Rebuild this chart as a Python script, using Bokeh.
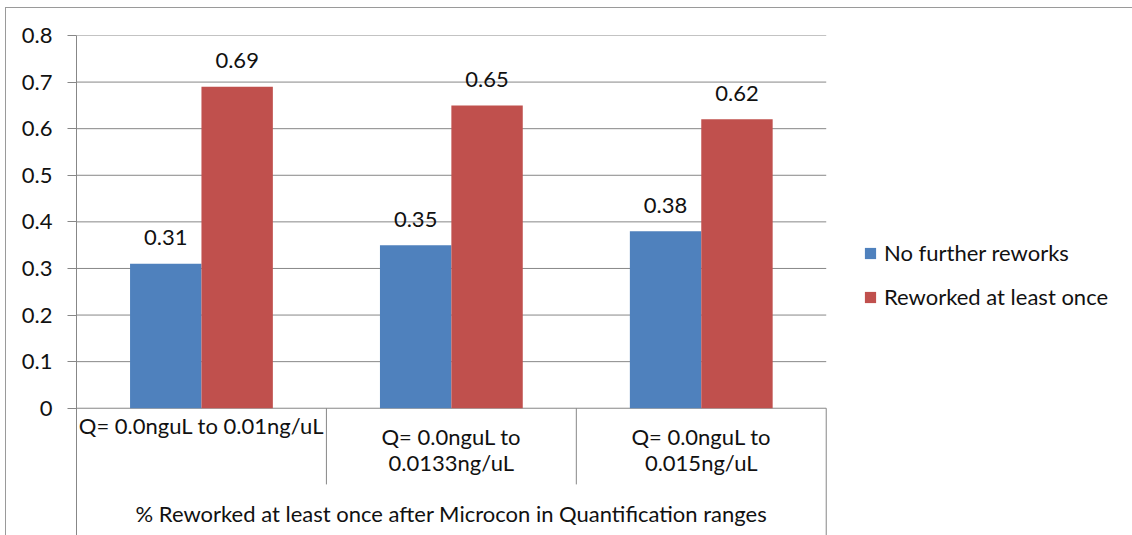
from bokeh.plotting import figure
from bokeh.models import (ColumnDataSource, Range1d, FixedTicker, NumeralTickFormatter,
                          Legend, LegendItem)
from bokeh.core.properties import value
from bokeh.embed import file_html
from bokeh.resources import INLINE

# ---- data -------------------------------------------------------------
categories = ["Q= 0.0nguL to 0.01ng/uL", "Q= 0.0nguL to\n0.0133ng/uL", "Q= 0.0nguL to\n0.015ng/uL"]
series_names = ["No further reworks", "Reworked at least once"]
no_further_reworks = [0.31, 0.35, 0.38]
reworked_at_least_once = [0.69, 0.65, 0.62]
y_ticks = [0, 0.1, 0.2, 0.3, 0.4, 0.5, 0.6, 0.7, 0.8]
axis_title = "% Reworked at least once after Microcon in Quantification ranges"

# ---- style ------------------------------------------------------------
FONT = "Lato"
FONT_SIZE = "22px"
BLUE = "#4F81BD"
RED = "#C0504D"
GRID = "#878787"
TEXT = "#111111"

# ---- layout (pixels) --------------------------------------------------
W, H = 1132, 535
ML, MT, BW = 5, 7, 1          # chart-area border: offset and width
fig_w, fig_h = W - ML - BW, H - MT - BW
left_px, top_px = 70, 27      # room for the value axis above/left of the frame
cat_px = 249.67               # width of one category slot
zero_px = 372                 # distance from frame top to the zero line
sep_px = 76                   # depth of the inner category separators
label_px, line_step_px = 17, 24
title_px = 105
bar_w = 2 / 7                 # gap width 150 %

frame_w = fig_w - left_px
frame_h = fig_h - top_px
y_top = y_ticks[-1]
unit_px = zero_px / y_top
x_end = frame_w / cat_px
y_start = -(frame_h - zero_px) / unit_px
n = len(categories)

p = figure(width=fig_w, height=fig_h, output_backend="svg", toolbar_location=None,
           x_range=Range1d(0, x_end), y_range=Range1d(y_start, y_top),
           x_axis_type=None,
           min_border_left=left_px, min_border_top=top_px,
           min_border_right=0, min_border_bottom=0)
p.margin = (MT, 0, 0, ML)
p.styles = {"border-top": f"{BW}px solid #9a9a9a", "border-left": f"{BW}px solid #9a9a9a",
            "box-sizing": "content-box"}
p.outline_line_color = None
p.xgrid.visible = False
p.ygrid.visible = False
p.background_fill_color = "white"
p.border_fill_color = "white"

# value axis
ax = p.yaxis[0]
ax.ticker = FixedTicker(ticks=y_ticks)
ax.formatter = NumeralTickFormatter(format="0.[0]")
ax.major_tick_in = 0
ax.major_tick_out = 9
ax.minor_tick_out = 0
ax.minor_tick_in = 0
ax.axis_line_color = GRID
ax.major_tick_line_color = GRID
ax.major_label_text_font = FONT
ax.major_label_text_font_size = FONT_SIZE
ax.major_label_text_color = TEXT
ax.major_label_standoff = 15

# horizontal gridlines across the category slots
p.segment(x0=[0] * len(y_ticks), x1=[n] * len(y_ticks), y0=y_ticks, y1=y_ticks,
          line_color=GRID, line_width=1)

# category separators below the zero line
sep_x = list(range(n + 1))
sep_bottom = [y_start if i in (0, n) else -sep_px / unit_px for i in sep_x]
p.segment(x0=sep_x, x1=sep_x, y0=[0] * len(sep_x), y1=sep_bottom,
          line_color=GRID, line_width=1)

# bars
centers = [i + 0.5 for i in range(n)]
src_a = ColumnDataSource(dict(x=[c - bar_w / 2 for c in centers], top=no_further_reworks,
                              lbl=[f"{v:.2f}" for v in no_further_reworks]))
src_b = ColumnDataSource(dict(x=[c + bar_w / 2 for c in centers], top=reworked_at_least_once,
                              lbl=[f"{v:.2f}" for v in reworked_at_least_once]))
r_a = p.vbar(x="x", top="top", width=bar_w, bottom=0, source=src_a,
             fill_color=BLUE, line_color=None)
r_b = p.vbar(x="x", top="top", width=bar_w, bottom=0, source=src_b,
             fill_color=RED, line_color=None)

# value labels
for src in (src_a, src_b):
    p.text(x="x", y="top", text="lbl", source=src, text_align="center",
           text_baseline="middle", y_offset=-26, text_font=value(FONT),
           text_font_size=FONT_SIZE, text_color=TEXT)

# category labels
cat_src = ColumnDataSource(dict(
    x=centers, y=[0] * n, text=categories,
    off=[label_px + line_step_px * (c.count("\n")) for c in categories]))
p.text(x="x", y="y", text="text", source=cat_src, y_offset="off",
       text_align="center", text_baseline="middle", text_line_height=0.95,
       text_font=value(FONT), text_font_size=FONT_SIZE, text_color=TEXT)

# axis title
p.text(x=[n / 2], y=[0], text=[axis_title], y_offset=title_px,
       text_align="center", text_baseline="middle",
       text_font=value(FONT), text_font_size=FONT_SIZE, text_color=TEXT)

# legend
legend = Legend(items=[LegendItem(label=series_names[0], renderers=[r_a]),
                       LegendItem(label=series_names[1], renderers=[r_b])],
                location=(787, 226))
legend.glyph_width = 14
legend.glyph_height = 14
legend.label_standoff = 7
legend.label_height = 22
legend.spacing = 17
legend.padding = 0
legend.margin = 0
legend.border_line_color = None
legend.background_fill_alpha = 0
legend.label_text_font = FONT
legend.label_text_font_size = FONT_SIZE
legend.label_text_color = TEXT
p.add_layout(legend)

open("out.html", "w").write(file_html(p, INLINE))
